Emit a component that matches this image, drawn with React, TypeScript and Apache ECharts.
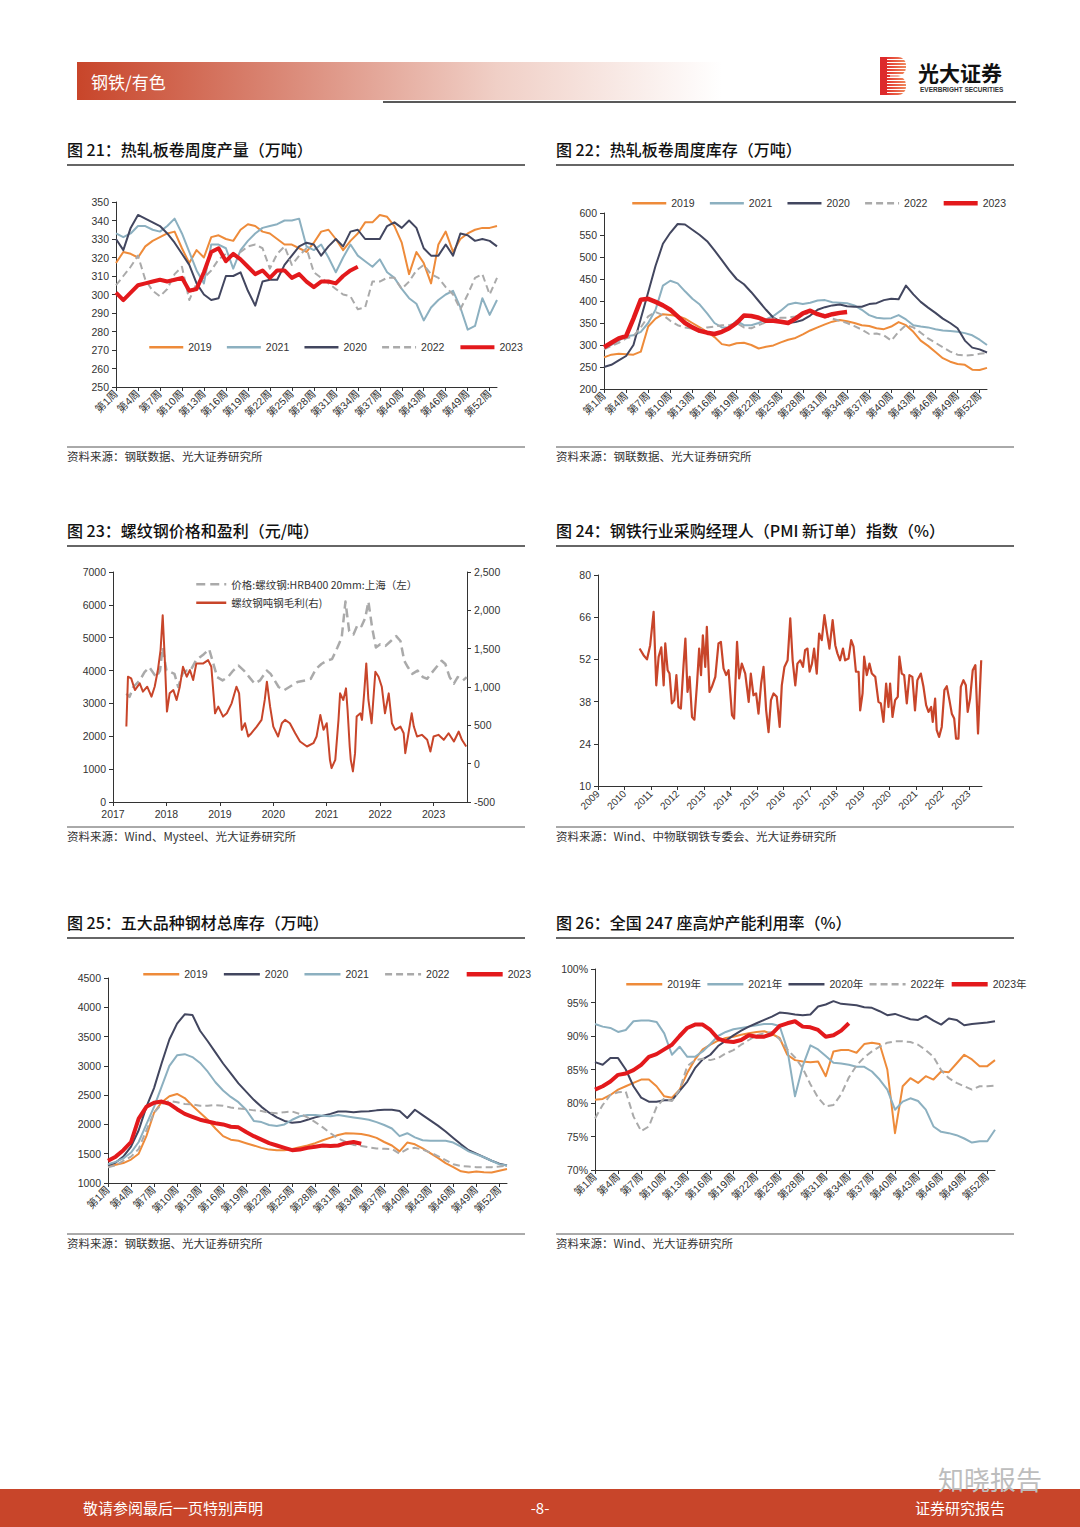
import React, { useEffect, useRef } from "react";
import * as echarts from "echarts";

// ---------- categories ----------
const weeks: string[] = Array.from({ length: 53 }, (_, i) => `第${i + 1}周`);
const pmiYTicks = [10, 24, 38, 52, 66, 80];
const rebarYears = [2017, 2018, 2019, 2020, 2021, 2022, 2023];
const pmiYears = [2009, 2010, 2011, 2012, 2013, 2014, 2015, 2016, 2017, 2018, 2019, 2020, 2021, 2022, 2023];

// ---------- 图21 热轧板卷周度产量 ----------
const hrcOut2019 = [317,323,322,320,326,329,331,333,334,325,317,324,320,331,332,330,329,335,338,337,334,333,330,327,327,325,323,328,334,335,330,324,329,333,339,339,343,342,337,328,311,323,317,306,327,334,323,330,333,335,336,336,337];
const hrcOut2021 = [333,331,333,337,337,335,334,337,341,333,323,313,306,327,327,325,314,324,329,333,336,337,338,340,340,341,326,324,327,320,312,320,327,321,318,315,319,312,309,303,298,295,286,293,297,300,302,293,281,283,298,289,297];
const hrcOut2020 = [330,324,336,343,341,339,337,333,328,322,316,306,300,297,298,310,310,312,302,294,307,308,308,316,321,326,328,327,321,326,330,326,334,335,330,330,330,337,339,336,340,336,325,321,321,327,321,333,332,329,330,329,326];
const hrcOut2022 = [305,310,315,321,308,302,299,303,311,315,297,306,309,313,319,322,321,323,326,327,325,314,322,326,316,321,325,312,309,306,303,300,299,292,293,307,307,309,309,303,307,313,316,311,309,304,300,292,300,309,311,300,309];
const hrcOut2023 = [301,297,301,305,306,307,308,307,308,309,302,303,312,323,325,318,322,319,315,311,313,309,313,313,309,311,307,304,307,307,306,310,313,315];

// ---------- 图22 热轧板卷周度库存 ----------
const hrcInv2019 = [272,278,280,279,278,285,342,360,370,368,366,360,350,340,330,318,302,299,304,305,300,292,296,299,306,312,316,324,333,340,347,353,357,354,350,345,343,338,336,342,352,345,330,310,298,284,270,262,257,255,244,243,248];
const hrcInv2021 = [295,300,310,320,322,330,350,380,435,446,440,422,405,392,372,350,340,340,355,345,345,350,358,366,378,392,396,393,396,401,402,397,396,395,390,380,368,362,360,361,368,358,345,342,340,336,333,332,330,327,322,312,300];
const hrcInv2020 = [250,255,265,275,300,360,420,480,530,555,575,574,562,550,536,515,493,470,450,438,420,400,380,362,353,350,352,357,367,380,386,390,392,388,387,387,393,395,402,405,404,435,415,398,385,373,360,350,338,310,294,290,283];
const hrcInv2022 = [290,298,305,315,320,340,365,375,368,355,345,340,337,335,340,342,345,345,350,340,338,345,352,360,362,362,365,370,373,372,368,360,355,350,343,335,325,326,322,310,330,345,340,328,315,305,295,285,278,276,277,280,282];
const hrcInv2023 = [295,305,315,320,360,403,405,398,390,380,365,350,340,332,328,325,330,338,350,367,366,362,355,355,353,350,360,372,378,370,365,370,373,375];

// ---------- 图23 螺纹钢价格和盈利 ----------
const priceX = [2017.25,2017.31,2017.38,2017.5,2017.59,2017.68,2017.81,2017.88,2017.93,2018.0,2018.08,2018.15,2018.22,2018.3,2018.38,2018.45,2018.55,2018.62,2018.7,2018.8,2018.88,2018.95,2019.05,2019.15,2019.25,2019.35,2019.45,2019.55,2019.65,2019.75,2019.88,2019.95,2020.1,2020.2,2020.3,2020.45,2020.6,2020.7,2020.8,2020.9,2021.0,2021.1,2021.2,2021.28,2021.35,2021.42,2021.5,2021.58,2021.65,2021.72,2021.78,2021.85,2021.92,2022.0,2022.1,2022.2,2022.3,2022.38,2022.45,2022.52,2022.6,2022.7,2022.8,2022.88,2022.95,2023.05,2023.15,2023.22,2023.3,2023.38,2023.45,2023.55,2023.62];
const priceY = [3300,3200,3500,3700,3950,4100,3800,4000,4700,4000,3950,3900,3500,3900,4000,4000,4300,4400,4500,4650,4200,3800,3700,3800,4000,4150,4000,3800,3600,3700,4000,3900,3500,3400,3500,3650,3700,3750,4050,4200,4300,4350,4700,5000,6100,5200,5100,5400,5350,5600,6100,5300,4700,4800,4750,4900,5050,4900,4300,4100,3900,4000,3800,3750,3900,4100,4300,4200,3800,3600,3800,3700,3800];
const marginX = [2017.25,2017.28,2017.34,2017.41,2017.5,2017.56,2017.64,2017.72,2017.78,2017.84,2017.89,2017.93,2017.97,2018.01,2018.06,2018.13,2018.19,2018.25,2018.31,2018.38,2018.44,2018.5,2018.56,2018.69,2018.78,2018.84,2018.91,2018.97,2019.06,2019.13,2019.22,2019.31,2019.36,2019.41,2019.47,2019.53,2019.59,2019.69,2019.78,2019.84,2019.88,2019.94,2020.0,2020.09,2020.16,2020.22,2020.31,2020.41,2020.5,2020.63,2020.75,2020.81,2020.88,2020.94,2021.0,2021.06,2021.09,2021.16,2021.22,2021.25,2021.31,2021.36,2021.39,2021.43,2021.45,2021.49,2021.53,2021.56,2021.63,2021.66,2021.7,2021.74,2021.78,2021.84,2021.91,2021.97,2022.03,2022.09,2022.16,2022.22,2022.28,2022.38,2022.44,2022.47,2022.53,2022.59,2022.63,2022.69,2022.78,2022.88,2022.94,2023.0,2023.09,2023.19,2023.28,2023.38,2023.47,2023.53,2023.61];
const marginY = [484,1134,1112,960,1047,939,1004,874,1004,1221,1481,1936,1351,679,917,960,831,1004,1264,1134,1221,1091,1308,1308,1351,1264,657,744,614,657,787,1004,917,441,527,354,397,484,571,831,1069,744,484,354,527,571,527,397,289,224,267,354,636,441,527,50,-58,50,571,917,831,982,700,224,50,-101,137,614,657,571,917,1308,831,527,1199,1134,1004,657,917,527,441,484,397,137,397,657,484,354,376,311,159,354,376,311,397,289,419,311,224];

// ---------- 图24 PMI 新订单 ----------
const pmiX = [2010.57,2010.72,2010.85,2010.97,2011.1,2011.2,2011.29,2011.39,2011.48,2011.54,2011.63,2011.7,2011.79,2011.88,2011.96,2012.04,2012.13,2012.23,2012.3,2012.38,2012.46,2012.55,2012.64,2012.74,2012.82,2012.89,2012.96,2013.05,2013.11,2013.21,2013.3,2013.43,2013.55,2013.64,2013.74,2013.84,2013.93,2014.06,2014.14,2014.25,2014.33,2014.43,2014.56,2014.69,2014.77,2014.87,2014.97,2015.06,2015.16,2015.25,2015.35,2015.44,2015.53,2015.63,2015.75,2015.86,2015.94,2016.04,2016.16,2016.26,2016.35,2016.45,2016.53,2016.64,2016.74,2016.82,2016.91,2016.99,2017.08,2017.16,2017.26,2017.35,2017.45,2017.55,2017.64,2017.74,2017.86,2017.96,2018.04,2018.14,2018.25,2018.33,2018.46,2018.56,2018.65,2018.74,2018.84,2018.9,2018.99,2019.05,2019.15,2019.25,2019.34,2019.47,2019.59,2019.68,2019.78,2019.88,2019.97,2020.03,2020.12,2020.22,2020.32,2020.38,2020.47,2020.56,2020.66,2020.76,2020.87,2020.97,2021.06,2021.19,2021.29,2021.39,2021.48,2021.58,2021.64,2021.73,2021.79,2021.88,2021.98,2022.08,2022.17,2022.27,2022.36,2022.45,2022.52,2022.61,2022.7,2022.8,2022.89,2022.96,2023.05,2023.15,2023.25,2023.35,2023.47];
const pmiY = [55.6,53.4,52,56.7,67.8,43.4,52.9,56,43.4,57.3,48.4,47.3,37.4,38.5,46.8,36.2,35.7,50.1,58.9,41.2,46.2,32.9,32,44,55.6,46.8,60,49.5,62.8,41.2,42.9,46.2,57.3,57.8,49,46.8,48.4,33.5,32.4,57.8,45.7,50.6,47.3,37.9,47.3,40.1,40.7,34,44,49.5,35.1,27.9,38.5,40.7,39.6,29.6,43.4,49.5,51.7,65.6,51.7,43.4,50.6,51.7,49.5,55.1,55.6,47.9,50.6,55.6,47.3,60.6,58.4,66.7,61.2,55.6,65,56.7,54,51.7,55.6,51.7,52.3,58.4,56.2,47.9,47.9,35.1,40.7,52.9,46.8,50.6,47.3,46.2,37.9,37.4,31.3,44,36.2,44,32.9,38.5,39.6,52.9,47.3,46.8,37.4,46.8,46.2,35.1,45.1,47.3,42.9,36.8,34.6,36.2,31.3,39,28.5,26.3,29.6,41.8,43.1,38.5,34,32.4,25.7,25.7,42.9,45.1,43.4,34.6,39,48.4,50.1,27.4,51.7];

// ---------- 图25 五大品种钢材总库存 ----------
const stock2019 = [1280,1310,1340,1400,1500,1800,2200,2380,2480,2520,2450,2320,2200,2080,1930,1800,1740,1720,1680,1640,1600,1570,1560,1560,1580,1610,1640,1680,1730,1775,1820,1850,1845,1835,1810,1770,1700,1640,1540,1690,1660,1590,1510,1430,1340,1270,1200,1180,1195,1185,1180,1210,1240];
const stock2020 = [1300,1350,1450,1620,1900,2300,2620,3050,3450,3720,3880,3870,3600,3420,3230,3040,2870,2700,2560,2420,2300,2200,2120,2060,2030,2040,2080,2120,2150,2180,2220,2220,2210,2220,2225,2240,2250,2250,2230,2110,2250,2160,2070,1980,1880,1770,1660,1560,1500,1440,1380,1330,1300];
const stock2021 = [1320,1360,1420,1520,1700,2000,2300,2650,3000,3180,3200,3150,3050,2900,2720,2580,2470,2380,2250,2060,2040,1990,1975,2000,2080,2140,2160,2160,2150,2140,2160,2140,2120,2100,2080,2040,1990,1930,1800,1850,1780,1730,1720,1720,1720,1690,1620,1540,1490,1440,1380,1320,1300];
const stock2022 = [1270,1300,1380,1450,1580,1900,2200,2350,2400,2380,2350,2340,2320,2320,2330,2320,2290,2270,2260,2240,2230,2200,2190,2210,2220,2180,2120,2040,1950,1850,1760,1700,1650,1630,1610,1590,1585,1580,1500,1580,1600,1570,1520,1460,1390,1320,1290,1280,1270,1270,1270,1280,1300];
const stock2023 = [1380,1450,1560,1700,2100,2300,2370,2390,2350,2260,2180,2130,2080,2050,2020,2000,1960,1950,1870,1800,1740,1680,1640,1600,1560,1570,1600,1620,1640,1630,1640,1680,1700,1670];

// ---------- 图26 高炉产能利用率 ----------
const bf2019 = [80.5,80.6,81.2,82,82.5,83,83.5,83.5,82.5,81,80.8,82,84.5,86.5,88,88.7,89.3,89.7,89.9,90.2,90.4,90.6,90.7,90.3,89.7,87.2,86.4,86.2,86.1,86.2,84,87.7,87.9,87.9,87.5,88.8,89,88.8,85,75.5,82.5,83.7,83,84,83.5,84.7,84.6,85.9,87.2,86.5,85.5,85.5,86.4];
const bf2021 = [91.8,91.4,91.2,90.6,90.9,92.2,92.3,92.3,92.1,90.4,87.2,88.4,86.9,86.9,87.7,88.8,90,90.6,91,91.2,91.4,91.6,91.8,91.8,91.5,88,81,85.5,88.6,88,87,86,85.9,85.7,85.4,85.4,84.7,83.5,82,79,80.2,80.7,80.3,79,76.5,75.7,75.5,75.2,74.7,74.1,74.3,74.3,76];
const bf2020 = [86.1,85.7,86.7,86.7,85,82.5,80.8,80.2,80.2,80.4,80.4,81.8,83.2,85.2,86.5,87.2,88.5,89.3,90.1,90.8,91.4,91.9,92.4,92.9,93.5,93.4,93.2,93.1,93.2,94.4,94.7,95.2,94.8,94.7,94.6,94.3,94.2,93.7,93.1,93.3,92.9,92.5,92.4,93,92.3,91.7,92.6,92.4,91.6,91.8,91.9,92,92.2];
const bf2022 = [77.7,79.7,81.2,81.6,81.7,78,75.8,76.5,79.4,80.7,80.3,82,85.5,86.4,86.6,86.4,86.7,87.4,87.9,88.7,89.4,90.1,90.4,90.6,89.5,88,86.8,85.2,82.8,80.8,79.5,79.7,81.3,83.8,85.6,86.8,87.7,88.4,89,89.2,89.2,89.1,88.7,87.9,86.9,84.9,83.7,83,82.5,82,82.5,82.5,82.6];
const bf2023 = [82,82.5,83.2,84.2,84.4,84.9,85.7,86.9,87.3,88,88.7,90,91.2,91.7,91.7,90.9,89.6,89.2,89.1,89.4,90.1,89.9,89.9,90.3,91.5,91.9,92.2,91.4,91.3,90.9,89.9,90.1,90.8,91.9];

// ---------- styles ----------
const FONT = '"Liberation Sans", "Noto Sans CJK SC", sans-serif';
const CJK = '"Noto Sans CJK SC", sans-serif';
const C19 = "#EE8B3A";
const C21 = "#8CB0C0";
const C20 = "#42465F";
const C22 = "#AAAAAA";
const C23 = "#E3191C";
const BR = "#C8452A";
const AX = "#333";

const pairs = (xs: number[], ys: number[]) => xs.map((x, i) => [x, ys[i]]);
const plain = (v: number) => String(v);

function catX(gi: number) {
  return {
    type: "category",
    gridIndex: gi,
    data: weeks,
    boundaryGap: false,
    axisLine: { show: true, lineStyle: { color: AX, width: 1 } },
    axisTick: { show: true, interval: 2, length: 4, lineStyle: { color: AX } },
    axisLabel: { interval: 2, rotate: 45, fontSize: 10.5, color: AX, margin: 5, fontFamily: FONT },
    splitLine: { show: false },
  };
}

function valY(gi: number, min: number, max: number, interval: number, fmt: (v: number) => string = plain, right = false) {
  return {
    type: "value",
    gridIndex: gi,
    min,
    max,
    interval,
    position: right ? "right" : "left",
    axisLine: { show: true, lineStyle: { color: AX, width: 1 } },
    axisTick: { show: true, length: 4, lineStyle: { color: AX } },
    axisLabel: { fontSize: 10.5, color: AX, margin: 7, fontFamily: FONT, formatter: fmt },
    splitLine: { show: false },
  };
}

function mk(name: string, data: any[], color: string, width: number, xi: number, yi: number, dash?: number[], z = 2) {
  return {
    type: "line",
    name,
    data,
    xAxisIndex: xi,
    yAxisIndex: yi,
    symbol: "none",
    showSymbol: false,
    z,
    silent: true,
    lineStyle: { color, width, type: dash ? dash : "solid", join: "round" },
    itemStyle: { color },
    emphasis: { disabled: true },
  };
}

// legend entry with explicit line style so the icon matches the series
function li(name: string, color: string, width: number, dash?: number[]) {
  return { name, lineStyle: { color, width, type: dash ? dash : "solid" }, itemStyle: { opacity: 0, borderWidth: 0 } };
}

function legend(left: number, top: number, data: any[], itemWidth: number, itemGap: number, extra: any = {}) {
  return {
    left,
    top,
    data,
    itemWidth,
    itemHeight: 12,
    itemGap,
    selectedMode: false,
    itemStyle: { opacity: 0, borderWidth: 0 },
    textStyle: { fontSize: 10.5, color: AX, fontFamily: FONT },
    ...extra,
  };
}

const PRICE_NAME = "价格:螺纹钢:HRB400 20mm:上海（左）";
const MARGIN_NAME = "螺纹钢吨钢毛利(右)";

function titleBlock(x: number, y: number, w: number, text: string) {
  return [
    { type: "text", x, y, style: { text, fill: "#111", fontSize: 16, fontWeight: 500, fontFamily: CJK, verticalAlign: "middle" } },
    { type: "line", shape: { x1: x, y1: y + 16, x2: x + w, y2: y + 16 }, style: { stroke: "#666", lineWidth: 1.8 } },
  ];
}
function sourceBlock(x: number, y: number, w: number, text: string) {
  return [
    { type: "line", shape: { x1: x, y1: y, x2: x + w, y2: y }, style: { stroke: "#555", lineWidth: 1 } },
    { type: "text", x, y: y + 9, style: { text, fill: "#333", fontSize: 11.5, fontFamily: CJK, verticalAlign: "middle" } },
  ];
}

function buildOption() {
  const stripes: any[] = [];
  for (let i = 0; i < 12; i++) {
    stripes.push({ type: "line", shape: { x1: 887, y1: 59.5 + i * 3, x2: 907, y2: 59.5 + i * 3 }, style: { stroke: "#fff", lineWidth: 1 } });
  }
  const graphics: any[] = [
    // header
    {
      type: "rect",
      shape: { x: 77, y: 62, width: 645, height: 38 },
      style: {
        fill: { type: "linear", x: 0, y: 0, x2: 1, y2: 0, colorStops: [
          { offset: 0, color: "#C8452A" },
          { offset: 0.3, color: "#D98472" },
          { offset: 0.65, color: "#F0CFC6" },
          { offset: 1, color: "#FFFFFF" },
        ] },
      },
    },
    { type: "text", x: 91, y: 81, style: { text: "钢铁/有色", fill: "#fff", fontSize: 17, fontFamily: CJK, verticalAlign: "middle" } },
    { type: "line", shape: { x1: 383, y1: 102, x2: 1016, y2: 102 }, style: { stroke: "#222", lineWidth: 1.5 } },
    // logo
    { type: "rect", shape: { x: 880, y: 57, width: 10, height: 38 }, style: { fill: "#DD2A2C" } },
    { type: "rect", shape: { x: 887, y: 57, width: 19, height: 18.5, r: [0, 8, 8, 0] }, style: { fill: { type: "linear", x: 0, y: 0, x2: 1, y2: 0, colorStops: [{ offset: 0, color: "#E2352E" }, { offset: 1, color: "#F08A5E" }] } } },
    { type: "rect", shape: { x: 887, y: 76.5, width: 19, height: 18.5, r: [0, 8, 8, 0] }, style: { fill: { type: "linear", x: 0, y: 0, x2: 1, y2: 0, colorStops: [{ offset: 0, color: "#E2352E" }, { offset: 1, color: "#F08A5E" }] } } },
    ...stripes,
    { type: "text", x: 918, y: 72, style: { text: "光大证券", fill: "#111", fontSize: 21, fontWeight: "bold", fontFamily: CJK, verticalAlign: "middle" } },
    { type: "text", x: 920, y: 89, style: { text: "EVERBRIGHT SECURITIES", fill: "#333", fontSize: 6.5, fontWeight: "bold", fontFamily: FONT, verticalAlign: "middle" } },
    // titles
    ...titleBlock(67, 149, 458, "图 21：热轧板卷周度产量（万吨）"),
    ...titleBlock(556, 149, 458, "图 22：热轧板卷周度库存（万吨）"),
    ...titleBlock(67, 530, 458, "图 23：螺纹钢价格和盈利（元/吨）"),
    ...titleBlock(556, 530, 458, "图 24：钢铁行业采购经理人（PMI 新订单）指数（%）"),
    ...titleBlock(67, 922, 458, "图 25：五大品种钢材总库存（万吨）"),
    ...titleBlock(556, 922, 458, "图 26：全国 247 座高炉产能利用率（%）"),
    // sources
    ...sourceBlock(67, 447, 458, "资料来源：钢联数据、光大证券研究所"),
    ...sourceBlock(556, 447, 458, "资料来源：钢联数据、光大证券研究所"),
    ...sourceBlock(67, 827, 458, "资料来源：Wind、Mysteel、光大证券研究所"),
    ...sourceBlock(556, 827, 458, "资料来源：Wind、中物联钢铁专委会、光大证券研究所"),
    ...sourceBlock(67, 1234, 458, "资料来源：钢联数据、光大证券研究所"),
    ...sourceBlock(556, 1234, 458, "资料来源：Wind、光大证券研究所"),
    // footer
    { type: "rect", shape: { x: 0, y: 1489, width: 1080, height: 38 }, style: { fill: BR } },
    { type: "text", x: 83, y: 1507, style: { text: "敬请参阅最后一页特别声明", fill: "#fff", fontSize: 15, fontFamily: CJK, verticalAlign: "middle" } },
    { type: "text", x: 540, y: 1507, style: { text: "-8-", fill: "#fff", fontSize: 15, fontFamily: CJK, align: "center", verticalAlign: "middle" } },
    { type: "text", x: 1005, y: 1507, style: { text: "证券研究报告", fill: "#fff", fontSize: 15, fontFamily: CJK, align: "right", verticalAlign: "middle" } },
    { type: "text", x: 938, y: 1478, style: { text: "知晓报告", fill: "#BDBDBD", fontSize: 26, fontFamily: CJK, verticalAlign: "middle" } },
  ];

  const yearFmt = (v: number) => String(Math.round(v));
  const DASH = [7, 4];
  const yrLegend = (names: string[], redW: number) =>
    names.map((n) => {
      const y = n.slice(0, 4);
      if (y === "2019") return li(n, C19, 2.5);
      if (y === "2020") return li(n, C20, 2.5);
      if (y === "2021") return li(n, C21, 2.5);
      if (y === "2022") return li(n, C22, 2.5, DASH);
      return li(n, C23, redW);
    });

  return {
    animation: false,
    backgroundColor: "#fff",
    textStyle: { fontFamily: FONT },
    grid: [
      { left: 116, top: 202, width: 381, height: 185 },
      { left: 604, top: 213, width: 383, height: 176 },
      { left: 113, top: 572, width: 354, height: 230 },
      { left: 598, top: 575, width: 384, height: 211 },
      { left: 108, top: 978, width: 399, height: 205 },
      { left: 595, top: 969, width: 400, height: 201 },
    ],
    xAxis: [
      catX(0),
      catX(1),
      {
        type: "value",
        gridIndex: 2,
        min: 2017,
        max: 2023.625,
        axisLine: { show: true, onZero: false, lineStyle: { color: AX } },
        axisTick: { show: true, length: 4, customValues: rebarYears, lineStyle: { color: AX } },
        axisLabel: { fontSize: 10.5, color: AX, margin: 7, fontFamily: FONT, customValues: rebarYears, formatter: yearFmt },
        splitLine: { show: false },
      },
      {
        type: "value",
        gridIndex: 3,
        min: 2009,
        max: 2023.5,
        axisLine: { show: true, lineStyle: { color: AX } },
        axisTick: { show: true, length: 4, customValues: pmiYears, lineStyle: { color: AX } },
        axisLabel: { fontSize: 10, color: AX, margin: 6, rotate: 45, fontFamily: FONT, customValues: pmiYears, formatter: yearFmt },
        splitLine: { show: false },
      },
      catX(4),
      catX(5),
    ],
    yAxis: [
      valY(0, 250, 350, 10),
      valY(1, 200, 600, 50),
      valY(2, 0, 7000, 1000),
      valY(2, -500, 2500, 500, (v: number) => v.toLocaleString("en-US"), true),
      {
        type: "value",
        gridIndex: 3,
        min: 10,
        max: 80,
        axisLine: { show: true, lineStyle: { color: AX } },
        axisTick: { show: true, length: 4, customValues: pmiYTicks, lineStyle: { color: AX } },
        axisLabel: { fontSize: 10.5, color: AX, margin: 7, fontFamily: FONT, customValues: pmiYTicks, formatter: plain },
        splitLine: { show: false },
      },
      valY(4, 1000, 4500, 500),
      valY(5, 70, 100, 5, (v: number) => `${v}%`),
    ],
    legend: [
      legend(143, 337, yrLegend(["2019", "2021", "2020", "2022", "2023"], 4), 34, 14),
      legend(626, 193, yrLegend(["2019", "2021", "2020", "2022", "2023"], 4.5), 34, 14),
      legend(190, 574, [li(PRICE_NAME, C22, 2.5, [9, 5]), li(MARGIN_NAME, BR, 2.5)], 30, 8, { orient: "vertical", textStyle: { fontSize: 10.5, color: AX, fontFamily: CJK } }),
      legend(137, 964, yrLegend(["2019", "2020", "2021", "2022", "2023"], 4.5), 36, 15),
      legend(620, 974, yrLegend(["2019年", "2021年", "2020年", "2022年", "2023年"], 4.5), 36, 5, { textStyle: { fontSize: 10.5, color: AX, fontFamily: FONT } }),
    ],
    series: [
      // 21
      mk("2019", hrcOut2019, C19, 2, 0, 0),
      mk("2021", hrcOut2021, C21, 2, 0, 0),
      mk("2020", hrcOut2020, C20, 2, 0, 0),
      mk("2022", hrcOut2022, C22, 2, 0, 0, DASH),
      mk("2023", hrcOut2023, C23, 4, 0, 0, undefined, 5),
      // 22
      mk("2019", hrcInv2019, C19, 2, 1, 1),
      mk("2021", hrcInv2021, C21, 2, 1, 1),
      mk("2020", hrcInv2020, C20, 2, 1, 1),
      mk("2022", hrcInv2022, C22, 2, 1, 1, DASH),
      mk("2023", hrcInv2023, C23, 4.5, 1, 1, undefined, 5),
      // 23
      mk(PRICE_NAME, pairs(priceX, priceY), C22, 2.5, 2, 2, [9, 5]),
      mk(MARGIN_NAME, pairs(marginX, marginY), BR, 2, 2, 3, undefined, 5),
      // 24
      mk("PMI新订单", pairs(pmiX, pmiY), BR, 2.2, 3, 4),
      // 25
      mk("2019", stock2019, C19, 2, 4, 5),
      mk("2020", stock2020, C20, 2, 4, 5),
      mk("2021", stock2021, C21, 2, 4, 5),
      mk("2022", stock2022, C22, 2, 4, 5, DASH),
      mk("2023", stock2023, C23, 4, 4, 5, undefined, 5),
      // 26
      mk("2019年", bf2019, C19, 2, 5, 6),
      mk("2021年", bf2021, C21, 2, 5, 6),
      mk("2020年", bf2020, C20, 2, 5, 6),
      mk("2022年", bf2022, C22, 2, 5, 6, DASH),
      mk("2023年", bf2023, C23, 4, 5, 6, undefined, 5),
    ],
    graphic: { elements: graphics },
  };
}

export default function App() {
  const ref = useRef<HTMLDivElement>(null);
  useEffect(() => {
    if (!ref.current) return;
    const chart = echarts.init(ref.current, null, { renderer: "svg" });
    chart.setOption(buildOption() as any);
    return () => chart.dispose();
  }, []);
  return (
    <div
      ref={ref}
      style={{ position: "absolute", left: 0, top: 0, width: 1080, height: 1527, background: "#fff" }}
    />
  );
}
